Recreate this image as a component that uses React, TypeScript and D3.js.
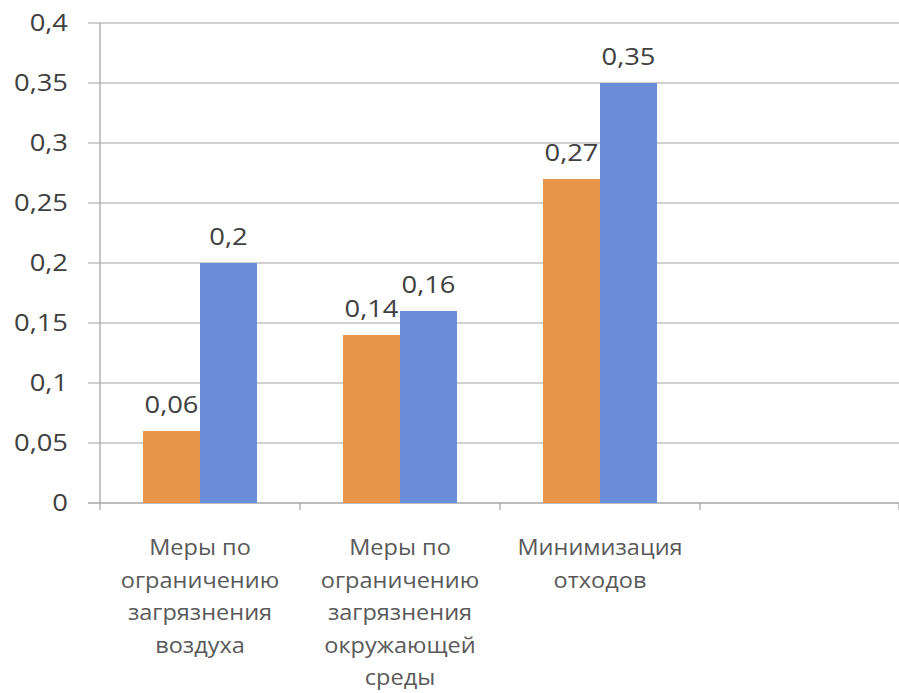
import * as d3 from 'd3';

const categories = [
  ['Меры по', 'ограничению', 'загрязнения', 'воздуха'],
  ['Меры по', 'ограничению', 'загрязнения', 'окружающей', 'среды'],
  ['Минимизация', 'отходов'],
  [],
];
const seriesA = [0.06, 0.14, 0.27];
const seriesB = [0.2, 0.16, 0.35];
const yTicks = [0, 0.05, 0.1, 0.15, 0.2, 0.25, 0.3, 0.35, 0.4];

const W = 899;
const H = 693;
const left = 100;
const right = 900;
const top = 23;
const bottom = 503;

const colors = ['#E8964A', '#6B8DD8'];
const fmt = (v: number) => String(v).replace('.', ',');
const font = '"Open Sans", sans-serif';

export default function App() {
  const x0 = d3
    .scaleBand<number>()
    .domain(categories.map((_, i) => i))
    .range([left, right]);
  const x1 = d3
    .scaleBand<number>()
    .domain([0, 1])
    .range([0, x0.bandwidth()])
    .paddingOuter(0.754);
  const y = d3.scaleLinear().domain([0, 0.4]).range([bottom, top]);

  const series = [seriesA, seriesB];

  return (
    <svg width={W} height={H} style={{ position: 'absolute', left: 0, top: 0, background: '#fff' }}>
      {/* gridlines + y labels */}
      {yTicks.map(t => (
        <g key={t}>
          <line x1={88} x2={W} y1={y(t)} y2={y(t)} stroke={t === 0 ? '#a6a6a6' : '#c0c0c0'} strokeWidth={1.3} />
          <text
            transform={`translate(68,${y(t)}) scale(1.14,1)`}
            textAnchor="end"
            dy="0.35em"
            fontFamily={font}
            fontSize={24}
            fill="#404040"
          >
            {fmt(t)}
          </text>
        </g>
      ))}
      {/* y axis */}
      <line x1={left} x2={left} y1={top} y2={bottom} stroke="#a6a6a6" strokeWidth={1.3} />
      {/* category ticks */}
      {categories.map((_, i) => (
        <line key={i} x1={x0(i)!} x2={x0(i)!} y1={bottom} y2={bottom + 7} stroke="#a6a6a6" strokeWidth={1.3} />
      ))}
      <line x1={right - 1} x2={right - 1} y1={bottom} y2={bottom + 7} stroke="#a6a6a6" strokeWidth={1.3} />
      {/* bars */}
      {series.map((vals, s) =>
        vals.map((v, i) => {
          const bx = x0(i)! + x1(s)!;
          return (
            <g key={`${s}-${i}`}>
              <rect x={bx} y={y(v)} width={x1.bandwidth()} height={y(0) - y(v)} fill={colors[s]} />
              <text
                transform={`translate(${bx + x1.bandwidth() / 2},${y(v) - 18}) scale(1.14,1)`}
                textAnchor="middle"
                fontFamily={font}
                fontSize={24}
                fill="#404040"
              >
                {fmt(v)}
              </text>
            </g>
          );
        })
      )}
      {/* category labels */}
      {categories.map((lines, i) => (
        <g key={i}>
          {lines.map((ln, k) => (
            <text
              key={k}
              transform={`translate(${x0(i)! + x0.bandwidth() / 2},${548 + k * 32.5}) scale(1.12,1)`}
              textAnchor="middle"
              dy="0.35em"
              fontFamily={font}
              fontSize={21}
              fill="#595959"
            >
              {ln}
            </text>
          ))}
        </g>
      ))}
    </svg>
  );
}
